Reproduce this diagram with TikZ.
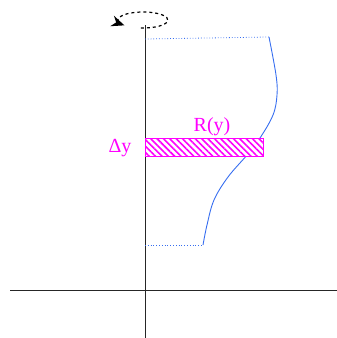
\documentclass[tikz,border=0pt]{standalone}
\usepackage{fontspec}
\setmainfont{Liberation Serif}
\usetikzlibrary{arrows.meta,patterns.meta}
\definecolor{curveblue}{RGB}{55,110,240}
\definecolor{mag}{RGB}{255,0,255}
\tikzset{
  axis/.style={line width=1pt,draw=black!85},
  guide/.style={curveblue,dotted,line width=0.8pt},
  profile/.style={curveblue,line width=0.9pt},
  slab/.style={draw=mag,line width=0.9pt,fill=white,postaction={pattern={Lines[angle=-45,distance=4.5pt,line width=1.6pt]},pattern color=mag}},
  lbl/.style={mag,font=\rmfamily\fontsize{20}{20}\selectfont,inner sep=0pt}
}
\begin{document}
\begin{tikzpicture}[x=1pt,y=1pt]
\useasboundingbox (0,0) rectangle (337,338);
% axes
\coordinate (xl) at (10,47);
\coordinate (xr) at (337,47);
\coordinate (yb) at (145,0);
\coordinate (yt) at (145,313);
\draw[axis] (xl) -- (xr);
\draw[axis] (yb) -- (yt);
% rotation arrow
\coordinate (ec) at (143,318);
\draw[dashed,line width=1.2pt,-{Stealth[length=13pt,width=11pt]}]
  (ec) ++(-95:25 and 8) arc[start angle=-95,end angle=222,x radius=25,y radius=8];
% profile curve
\coordinate (ctop) at (269,301);
\coordinate (cbot) at (203,93);
\coordinate (atop) at (145,299);
\coordinate (abot) at (145,93);
\draw[guide] (atop) -- (ctop);
\draw[guide] (abot) -- (cbot);
\draw[profile] plot[smooth,tension=0.6] coordinates {(269,301) (276,263) (277,243) (273,223) (260,200) (247,183) (228,161) (214,138) (207,113) (203,93)};
% slab
\node[slab,minimum width=118pt,minimum height=18pt,anchor=south west,inner sep=0pt] (rect) at (145,181) {};
\node[lbl] (R) at (212,211) {R(y)};
\node[lbl] (dy) at (120,190) {Δy};
\end{tikzpicture}
\end{document}
